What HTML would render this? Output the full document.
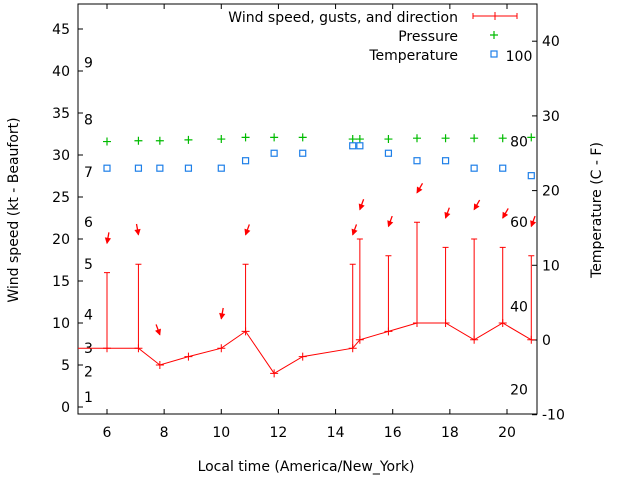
<!DOCTYPE html>
<html><head><meta charset="utf-8"><style>
body{margin:0;background:#fff}
svg{display:block;font-family:"DejaVu Sans","Liberation Sans",sans-serif}
</style></head><body>
<svg id="c" width="640" height="480"></svg>
<script>
const hours=[6,7.1,7.85,8.85,10,10.85,11.85,12.85,14.6,14.85,15.85,16.85,17.85,18.85,19.85,20.85];
const wind=[7,7,5,6,7,9,4,6,7,8,9,10,10,8,10,8];
const gust=[16,17,null,null,null,17,null,null,17,20,18,22,19,20,19,18];
const pressure=[31.6,31.7,31.7,31.8,31.9,32.1,32.1,32.1,31.9,31.9,31.9,32.0,32.0,32.0,32.0,32.1];
const temp=[23,23,23,23,23,24,25,25,26,26,25,24,24,23,23,22];
const arrowHours=[6,7.1,7.85,10,10.85,14.6,14.85,15.85,16.85,17.85,18.85,19.85,20.85];
const arrowLevel=[19.5,20.5,8.6,10.5,20.5,20.5,23.5,21.5,25.5,22.5,23.5,22.5,21.5];
const arrowDir=[10,350,340,10,20,20,20,20,30,20,30,30,20];
const leftTicks=[0,5,10,15,20,25,30,35,40,45];
const rightTicks=[-10,0,10,20,30,40];
const xTicks=[6,8,10,12,14,16,18,20];
const beaufort=["1","2","3","4","5","6","7","8","9"];
const beaufortAt=[1.2,4.2,7,11,17,22,28,34.2,41];
const fahr=["100","80","60","40","20"];
const fahrAt=[38,26.6,15.8,4.5,-6.6];

const L=78,R=537,T=4,B=414;
const sx=h=>107+(h-6)*400/14;
const sy=v=>407-v*8.4;
const sr=t=>340-t*7.47;
const S=document.getElementById('c');
function el(tag,a,p){const e=document.createElementNS('http://www.w3.org/2000/svg',tag);for(const k in a)e.setAttribute(k,a[k]);(p||S).appendChild(e);return e;}
function txt(x,y,s,anchor,name,extra){const t=el('text',Object.assign({x:x,y:y,'font-size':14,fill:'#000','text-anchor':anchor||'start'},extra||{}));t.textContent=s;


return t;}

const fr=el('rect',{x:L,y:T,width:R-L,height:B-T,fill:'none',stroke:'#000','stroke-width':1});


leftTicks.forEach(v=>{const y=sy(v);el('line',{x1:L,x2:L+5,y1:y,y2:y,stroke:'#000'});txt(70,y+5,String(v),'end','left-tick-label');});
rightTicks.forEach(v=>{const y=sr(v);el('line',{x1:R-5,x2:R,y1:y,y2:y,stroke:'#000'});txt(542,y+5,String(v),'start','right-tick-label');});
xTicks.forEach(v=>{const x=sx(v);el('line',{x1:x,x2:x,y1:B,y2:B-5,stroke:'#000'});el('line',{x1:x,x2:x,y1:T,y2:T+5,stroke:'#000'});txt(x,437,String(v),'middle','x-tick-label');});
beaufort.forEach((s,i)=>txt(84,sy(beaufortAt[i])+5,s,'start','beaufort-label'));
fahr.forEach((s,i)=>txt(519,sr(fahrAt[i])+5,s,'middle','fahrenheit-label'));

txt(306,471,'Local time (America/New_York)','middle','x-axis-title');
txt(0,0,'Wind speed (kt - Beaufort)','middle','y-axis-title',{transform:'translate(18,210) rotate(-90)'});
txt(0,0,'Temperature (C - F)','middle','y2-axis-title',{transform:'translate(601,210) rotate(-90)'});

const pts=hours.map((h,i)=>sx(h)+','+sy(wind[i])).join(' ');
const wl=el('polyline',{points:pts,fill:'none',stroke:'#f00','stroke-width':1});


el('line',{x1:L,x2:sx(hours[0]),y1:sy(wind[0]),y2:sy(wind[0]),stroke:'#f00'});
hours.forEach((h,i)=>{const x=sx(h),y=sy(wind[i]);
 const m=el('path',{d:`M${x-4},${y}h8M${x},${y-4}v8`,stroke:'#f00'});
 
 
 if(gust[i]!=null){const g=sy(gust[i]);
  const b=el('path',{d:`M${x},${y}V${g}M${x-3},${g}h6`,stroke:'#f00',fill:'none'});
  
  }
});
arrowHours.forEach((h,i)=>{const x=sx(h),y=sy(arrowLevel[i]);const a=arrowDir[i]*Math.PI/180;
 const tx=x+11*Math.sin(a),ty=y-11*Math.cos(a);
 const ax=Math.sin(a),ay=-Math.cos(a);const px=-ay,py=ax;
 const g=el('g',{});
 
 
 el('line',{x1:tx,y1:ty,x2:x,y2:y,stroke:'#f00','stroke-width':1.3},g);
 el('polygon',{points:`${x},${y} ${x+5*ax+2.5*px},${y+5*ay+2.5*py} ${x+5*ax-2.5*px},${y+5*ay-2.5*py}`,fill:'#f00',stroke:'#f00','stroke-width':0.8},g);
});
hours.forEach((h,i)=>{const x=sx(h),y=sy(pressure[i]);
 const p=el('path',{d:`M${x-4},${y}h8M${x},${y-4}v8`,stroke:'#0b0','stroke-width':1.2});
 
 });
hours.forEach((h,i)=>{const x=sx(h),y=sr(temp[i]);
 const r=el('rect',{x:x-3,y:y-3,width:6,height:6,fill:'none',stroke:'#1e7fe8','stroke-width':1.2});
 
 });

txt(458,22,'Wind speed, gusts, and direction','end','legend-wind-label');
txt(458,41,'Pressure','end','legend-pressure-label');
txt(458,60,'Temperature','end','legend-temperature-label');
const lw=el('path',{d:'M473,16h44M473,13v6M517,13v6M495,12v8',stroke:'#f00',fill:'none'});


const lp=el('path',{d:'M490,35h8M494,31v8',stroke:'#0b0','stroke-width':1.2});


const lt=el('rect',{x:491,y:51,width:6,height:6,fill:'none',stroke:'#1e7fe8','stroke-width':1.2});


</script>
</body></html>
